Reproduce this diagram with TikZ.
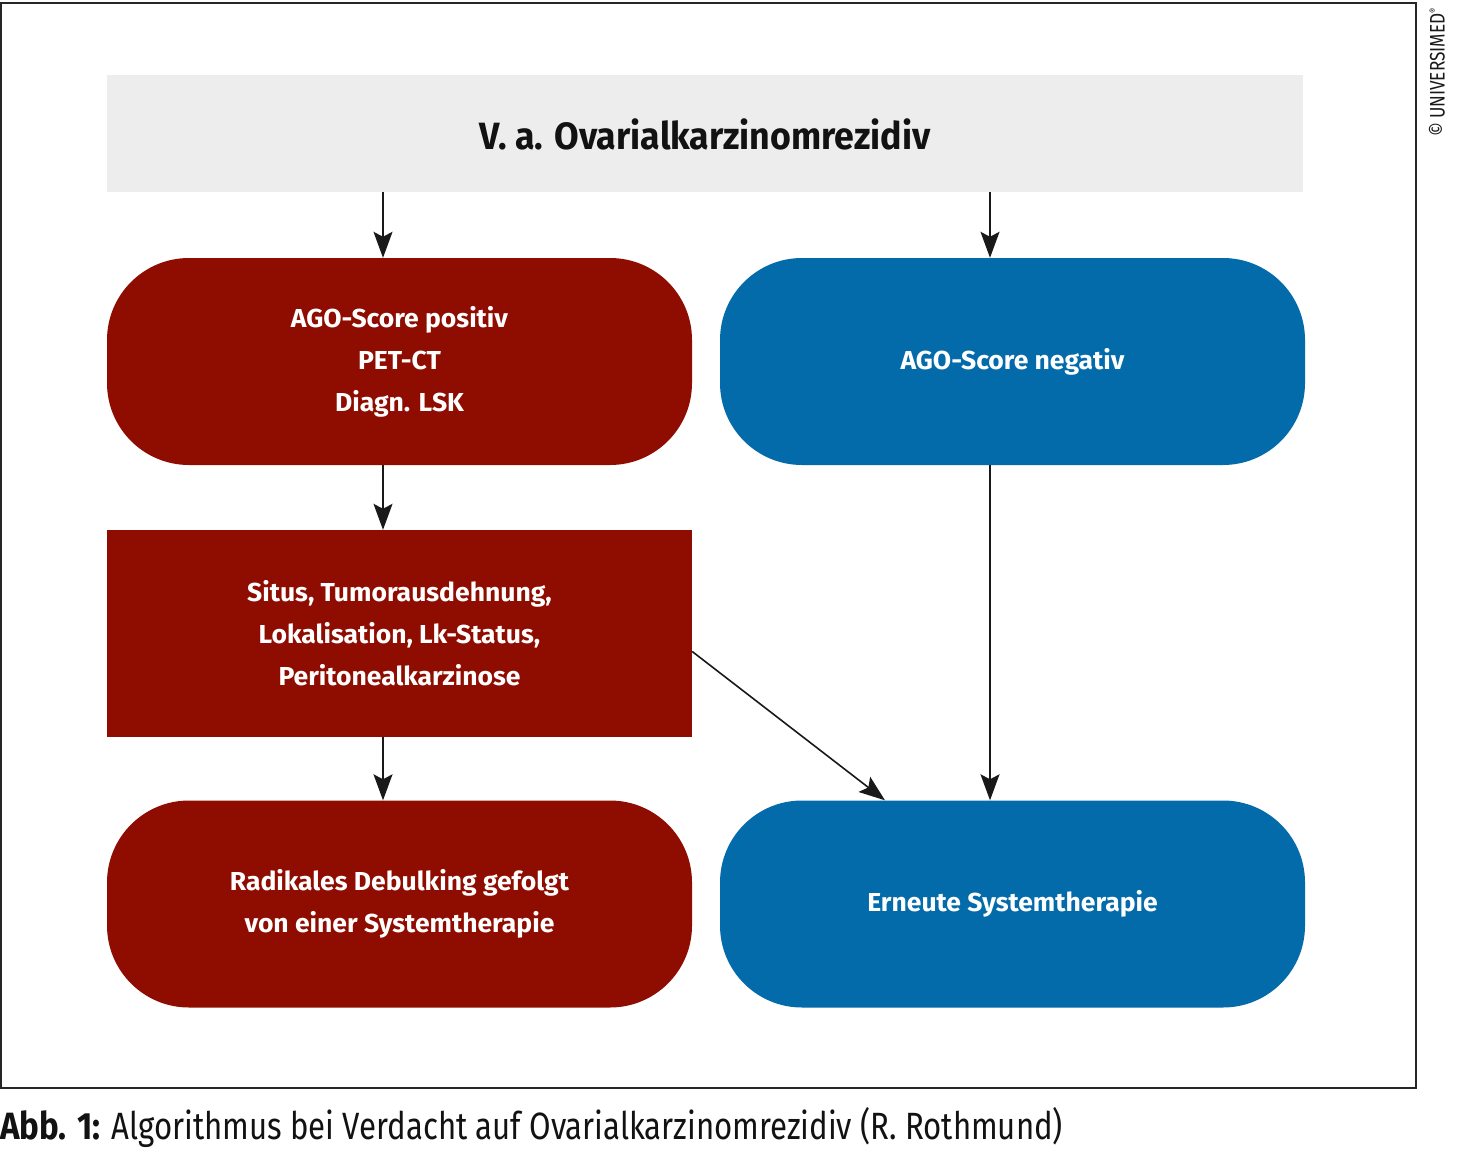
\documentclass[tikz,border=0pt]{standalone}
\usepackage{fontspec}
\setmainfont{Fira Sans}[FakeStretch=0.82]
\newfontfamily\feldschrift{Fira Sans}[FakeStretch=1.02]
\newfontfamily\kopfschrift{Fira Sans}[FakeStretch=0.94]
\newfontfamily\abbschrift{Fira Sans}[FakeStretch=0.87]
\usepackage{tikz}
\usetikzlibrary{arrows.meta}

\definecolor{agorot}{HTML}{8F0C00}
\definecolor{agoblau}{HTML}{036BAA}
\definecolor{kopfgrau}{HTML}{ECEDEC}

\tikzset{
  feld/.style={minimum width=585pt, minimum height=207pt, inner sep=0pt,
    text=white, align=center, font=\feldschrift\fontsize{26}{42}\selectfont\bfseries},
  rund/.style={feld, rounded corners=82pt},
  pfeil/.style={-{Stealth[length=26pt,width=19pt,inset=5pt]}, line width=1.6pt, black!90}
}

\begin{document}
\begin{tikzpicture}[x=1pt,y=-1pt]
\useasboundingbox (0,0) rectangle (1458,1161);
\fill[white] (0,0) rectangle (1458,1161);

% Rahmen
\draw[line width=1.5pt, black!85] (1,3) rectangle (1416,1088);

% Kopf
\node (kopf) at (705,133.5) [fill=kopfgrau, minimum width=1196pt, minimum height=117pt,
  inner sep=0pt, font=\kopfschrift\fontsize{38}{42}\selectfont\bfseries, text=black!93]
  {\raisebox{-16pt}[0pt][0pt]{V. a. Ovarialkarzinomrezidiv}};

% linke Spalte
\node (pos) at (399.5,361.5) [rund, fill=agorot]
  {AGO-Score positiv\\PET-CT\\Diagn. LSK};
\node (situs) at (399.5,633.5) [feld, fill=agorot]
  {Situs, Tumorausdehnung,\\Lokalisation, Lk-Status,\\Peritonealkarzinose};
\node (debulk) at (399.5,904) [rund, fill=agorot]
  {Radikales Debulking gefolgt\\von einer Systemtherapie};

% rechte Spalte
\node (neg) at (1012.5,361.5) [rund, fill=agoblau] {AGO-Score negativ};
\node (erneut) at (1012.5,904) [rund, fill=agoblau] {Erneute Systemtherapie};

\coordinate (lx) at (383,0);
\coordinate (rx) at (990,0);
\coordinate (dx) at (885,0);

\draw[pfeil] (kopf.south -| lx) -- (pos.north -| lx);
\draw[pfeil] (kopf.south -| rx) -- (neg.north -| rx);
\draw[pfeil] (pos.south -| lx) -- (situs.north -| lx);
\draw[pfeil] (situs.south -| lx) -- (debulk.north -| lx);
\draw[pfeil] (neg.south -| rx) -- (erneut.north -| rx);
\draw[pfeil] ([yshift=-18pt]situs.east) -- (erneut.north -| dx);

% Copyright
\node (copy) at (1437,72) [rotate=90, inner sep=0pt, font=\fontsize{21}{21}\selectfont, text=black!90]
  {©\,UNIVERSIMED\textsuperscript{\fontsize{10}{10}\selectfont ®}};

% Bildunterschrift
\node (abb) at (0,1127) [anchor=west, inner sep=0pt, font=\fontsize{38}{40}\selectfont, text=black!93]
  {{\abbschrift\bfseries Abb. 1:} Algorithmus bei Verdacht auf Ovarialkarzinomrezidiv (R. Rothmund)};
\end{tikzpicture}
\end{document}
